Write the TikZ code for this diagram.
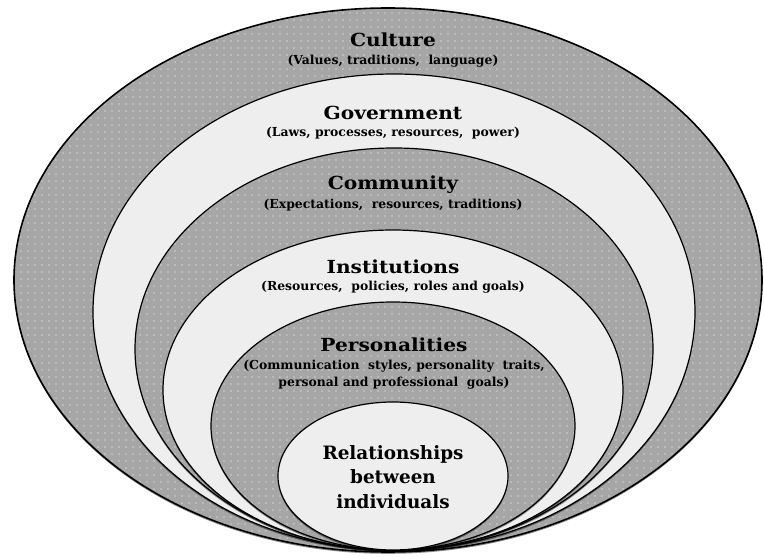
\documentclass[tikz,border=0pt]{standalone}
\usepackage{fontspec}
\setmainfont{DejaVu Serif}
\newfontfamily\widettl[FakeStretch=1.12]{DejaVu Serif}
\usetikzlibrary{patterns.meta,shadows}
\definecolor{dotgray}{HTML}{A6A6A6}
\definecolor{lightfill}{HTML}{EEEEEE}
\begin{document}
\begin{tikzpicture}[x=1pt,y=-1pt,
  ring/.style={draw=black, line width=1.2pt,
    drop shadow={shadow xshift=0pt, shadow yshift=-1.8pt, opacity=0.45, fill=black}},
  dotring/.style={ring, preaction={fill=dotgray},
    pattern={Dots[radius=0.7pt, distance=7pt]}, pattern color=white},
  plainring/.style={ring, fill=lightfill},
  ttl/.style={font=\widettl\fontsize{18}{21}\selectfont\bfseries, inner sep=0pt},
  sub/.style={font=\fontsize{12.4}{17}\selectfont\bfseries, inner sep=0pt, align=center},
  rel/.style={font=\fontsize{18.4}{24.5}\selectfont\bfseries, inner sep=0pt, align=center}]
\useasboundingbox (0,0) rectangle (764,559);
\path[dotring, line width=1.6pt] (388,280) ellipse [x radius=374pt, y radius=272pt];
\path[plainring] (394,312) ellipse [x radius=301pt, y radius=238pt];
\path[dotring] (394,349) ellipse [x radius=259pt, y radius=201pt];
\path[plainring] (393,390) ellipse [x radius=230pt, y radius=160pt];
\path[dotring] (393,426) ellipse [x radius=182pt, y radius=124pt];
\path[plainring] (393,476) ellipse [x radius=115pt, y radius=74pt];
\node[ttl] (cul) at (393,40) {Culture};
\node[sub] (culs) at (393,61) {(Values, traditions,\ \ language)};
\node[ttl] (gov) at (393,113) {Government};
\node[sub] (govs) at (393,133) {(Laws, processes, resources,\ \ power)};
\node[ttl] (com) at (393,185) {Community};
\node[sub] (coms) at (393,205) {(Expectations,\ \ resources, traditions)};
\node[ttl] (ins) at (393,267) {Institutions};
\node[sub] (inss) at (393,287) {(Resources,\ \ policies, roles and goals)};
\node[ttl] (per) at (394,345) {Personalities};
\node[sub] (pers) at (394,374.5) {(Communication\ \ styles, personality\ \ traits,\\personal and professional\ \ goals)};
\node[rel] (rela) at (393,477) {Relationships\\between\\individuals};
\end{tikzpicture}
\end{document}
